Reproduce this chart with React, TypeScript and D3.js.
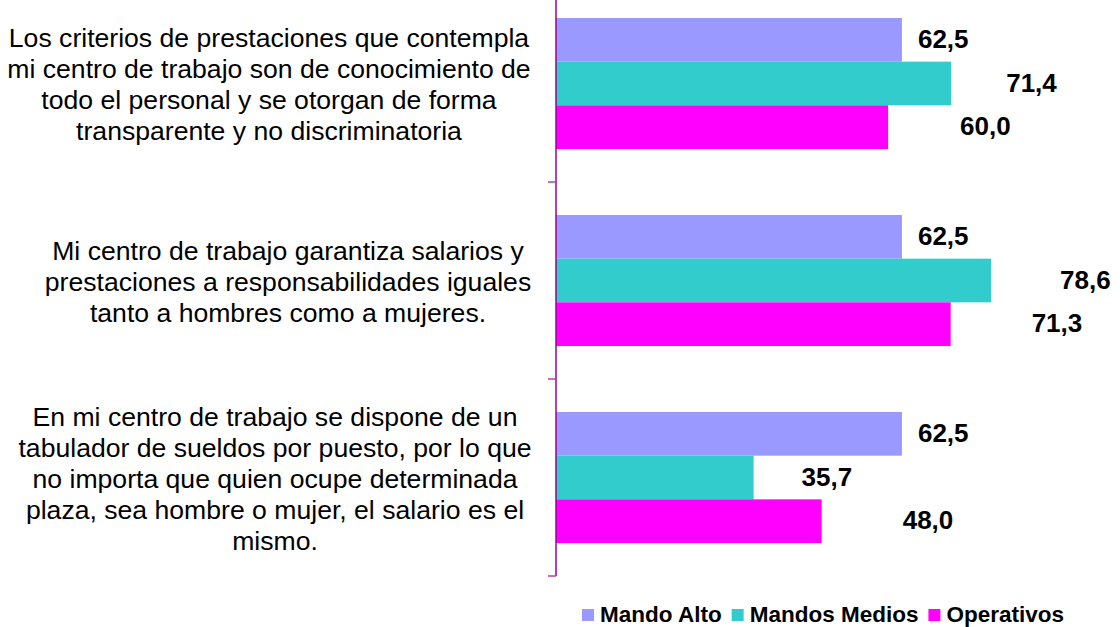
import { useEffect, useRef } from "react";
import * as d3 from "d3";

const CATEGORIES = [
  [
    "Los criterios de prestaciones que contempla",
    "mi centro de trabajo son de conocimiento de",
    "todo el personal y se otorgan de forma",
    "transparente y no discriminatoria",
  ],
  [
    "Mi centro de trabajo garantiza salarios y",
    "prestaciones a responsabilidades iguales",
    "tanto a hombres como a mujeres.",
  ],
  [
    "En mi centro de trabajo se dispone de un",
    "tabulador de sueldos por puesto, por lo que",
    "no importa que quien ocupe determinada",
    "plaza, sea hombre o mujer, el salario es el",
    "mismo.",
  ],
];

const SERIES = ["Mando Alto", "Mandos Medios", "Operativos"];
const MANDO_ALTO = [62.5, 62.5, 62.5];
const MANDOS_MEDIOS = [71.4, 78.6, 35.7];
const OPERATIVOS = [60.0, 71.3, 48.0];
const COLORS = ["#9999ff", "#33cccc", "#ff00ff"];

// label gaps from bar end, as placed in the original chart
const LABEL_GAP = [
  [16, 16, 16],
  [55, 69, 48],
  [72, 81, 81],
];
// horizontal centre of each wrapped category label
const LABEL_CX = [269, 288, 275];

const FONT = "'Liberation Sans', Arial, sans-serif";

export default function App() {
  const ref = useRef<SVGSVGElement | null>(null);

  useEffect(() => {
    if (!ref.current) return;
    const svg = d3.select(ref.current);
    svg.selectAll("*").remove();

    const width = 1120;
    const height = 627;
    const values = [MANDO_ALTO, MANDOS_MEDIOS, OPERATIVOS];
    const catIdx = CATEGORIES.map((_, i) => String(i));

    const y = d3.scaleBand<string>().domain(catIdx).range([-15, 576]);
    const y1 = d3
      .scaleBand<string>()
      .domain(SERIES)
      .range([0, y.bandwidth()])
      .paddingInner(0)
      .paddingOuter(0.755);
    const x = d3.scaleLinear().domain([0, 100]).range([556, 1109.5]);

    svg.attr("width", width).attr("height", height).attr("viewBox", `0 0 ${width} ${height}`);

    const groups = svg
      .append("g")
      .selectAll("g")
      .data(catIdx)
      .enter()
      .append("g")
      .attr("transform", (d) => `translate(0,${y(d)})`);

    SERIES.forEach((s, si) => {
      groups
        .append("rect")
        .attr("x", x(0))
        .attr("y", y1(s) ?? 0)
        .attr("width", (_, ci) => x(values[si][ci]) - x(0))
        .attr("height", y1.bandwidth())
        .attr("fill", COLORS[si]);

      groups
        .append("text")
        .text((_, ci) => values[si][ci].toFixed(1).replace(".", ","))
        .attr("x", (_, ci) => x(values[si][ci]) + LABEL_GAP[si][ci])
        .attr("y", (y1(s) ?? 0) + y1.bandwidth() / 2 + 8)
        .attr("font-family", FONT)
        .attr("font-weight", "bold")
        .attr("font-size", 26)
        .attr("fill", "#000");
    });

    // category labels
    const lineH = 31;
    groups.each(function (d, ci) {
      const lines = CATEGORIES[ci];
      const cy = y.bandwidth() / 2 + 1;
      const first = cy - ((lines.length - 1) * lineH) / 2 + 9.3;
      d3.select(this)
        .append("text")
        .attr("font-family", FONT)
        .attr("font-size", 26.6)
        .attr("fill", "#000")
        .attr("text-anchor", "middle")
        .selectAll("tspan")
        .data(lines)
        .enter()
        .append("tspan")
        .attr("x", LABEL_CX[ci])
        .attr("y", (_, i) => first + i * lineH)
        .text((t) => t);
    });

    // axis
    const axis = svg.append("g");
    axis
      .append("line")
      .attr("x1", 556)
      .attr("x2", 556)
      .attr("y1", -15)
      .attr("y2", 576)
      .attr("stroke", "#990099")
      .attr("stroke-width", 1.5);
    axis
      .selectAll("line.tick")
      .data([...catIdx.map((c) => y(c) ?? 0), 576])
      .enter()
      .append("line")
      .attr("class", "tick")
      .attr("x1", 548)
      .attr("x2", 556)
      .attr("y1", (d) => d)
      .attr("y2", (d) => d)
      .attr("stroke", "#b040b0")
      .attr("stroke-width", 1.5);

    // legend
    const legend = svg.append("g");
    let lx = 582;
    SERIES.forEach((s, si) => {
      legend
        .append("rect")
        .attr("x", lx)
        .attr("y", 609)
        .attr("width", 12)
        .attr("height", 12)
        .attr("fill", COLORS[si]);
      const t = legend
        .append("text")
        .attr("x", lx + 18)
        .attr("y", 622)
        .attr("font-family", FONT)
        .attr("font-weight", "bold")
        .attr("font-size", 22.5)
        .attr("fill", "#000")
        .text(s);
      const w = (t.node() as SVGTextElement).getComputedTextLength();
      lx += 18 + w + 10;
    });
  }, []);

  return (
    <svg
      ref={ref}
      style={{ position: "absolute", left: 0, top: 0, background: "#fff" }}
    />
  );
}
